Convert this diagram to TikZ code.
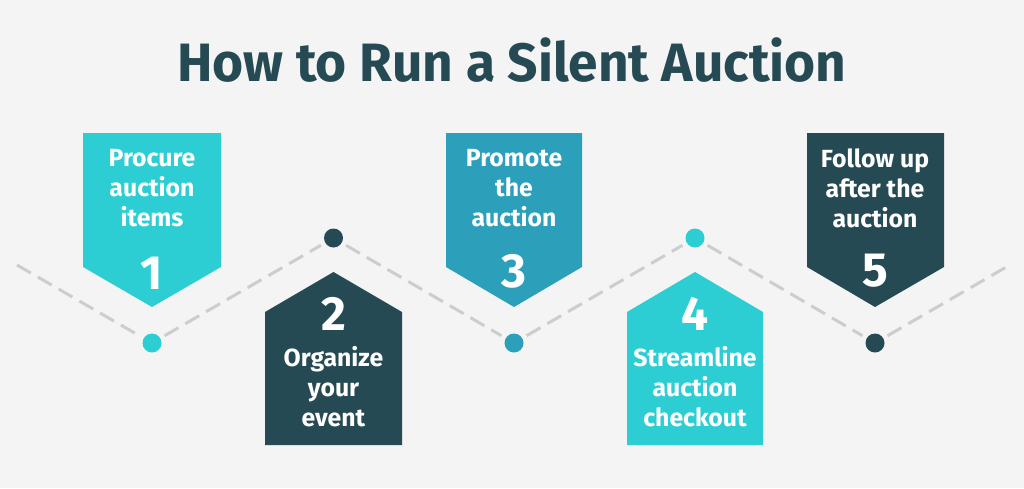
\documentclass[tikz,border=0pt]{standalone}
\usepackage{fontspec}
\setmainfont{Fira Sans}
\newfontfamily\titlefont{Fira Sans}[FakeStretch=0.985]
\definecolor{bg}{HTML}{F4F4F4}
\definecolor{cyanA}{HTML}{2DCED3}
\definecolor{blueA}{HTML}{2C9FBB}
\definecolor{darkA}{HTML}{264A53}
\definecolor{lineA}{HTML}{CDCDCD}
\tikzset{
  dotnode/.style={circle,fill=#1,minimum size=19pt,inner sep=0pt,outer sep=5pt},
  conn/.style={draw=lineA,line width=3pt,dash pattern=on 16pt off 8pt},
  boxtext/.style={text=white,font=\bfseries\fontsize{24.8}{30}\selectfont,align=center,inner sep=0pt},
  numtext/.style={text=white,font=\bfseries\fontsize{48}{48}\selectfont,inner sep=0pt}
}
\begin{document}
\begin{tikzpicture}[x=1pt,y=-1pt]
\fill[bg] (0,0) rectangle (1024,488);
\useasboundingbox (0,0) rectangle (1024,488);
\node[text=darkA,font=\titlefont\bfseries\fontsize{54}{54}\selectfont] (title) at (512,60) {How to Run a Silent Auction};
% boxes pointing down
\fill[cyanA] (83,133) -- (221,133) -- (221,267) -- (152,307) -- (83,267) -- cycle;
\fill[blueA] (446,133) -- (582,133) -- (582,267) -- (514,307) -- (446,267) -- cycle;
\fill[darkA] (807,133) -- (944,133) -- (944,267) -- (875,307) -- (807,267) -- cycle;
% boxes pointing up
\fill[darkA] (265,445) -- (402,445) -- (402,312) -- (333.5,272) -- (265,312) -- cycle;
\fill[cyanA] (627,445) -- (763,445) -- (763,312) -- (695,272) -- (627,312) -- cycle;
% texts
\node[boxtext] (t1) at (152,188) {Procure\\auction\\items};
\node[numtext] (n1) at (152,273) {1};
\node[boxtext] (t3) at (514,188) {Promote\\the\\auction};
\node[numtext] (n3) at (514,271) {3};
\node[boxtext] (t5) at (875,188) {Follow up\\after the\\auction};
\node[numtext] (n5) at (875,271) {5};
\node[numtext] (n2) at (333.5,314) {2};
\node[boxtext] (t2) at (333.5,387) {Organize\\your\\event};
\node[numtext] (n4) at (695,314) {4};
\node[boxtext] (t4) at (695,387) {Streamline\\auction\\checkout};
% dots
\node[dotnode=cyanA] (d1) at (152,343) {};
\node[dotnode=darkA] (d2) at (333.5,238) {};
\node[dotnode=blueA] (d3) at (514,343) {};
\node[dotnode=cyanA] (d4) at (695,238) {};
\node[dotnode=darkA] (d5) at (875,343) {};
\coordinate (s) at (17,265);
\coordinate (e) at (1008,266);
\draw[conn] (s) -- (d1);
\draw[conn] (d1) -- (d2);
\draw[conn] (d2) -- (d3);
\draw[conn] (d3) -- (d4);
\draw[conn] (d4) -- (d5);
\draw[conn] (d5) -- (e);
\end{tikzpicture}
\end{document}
